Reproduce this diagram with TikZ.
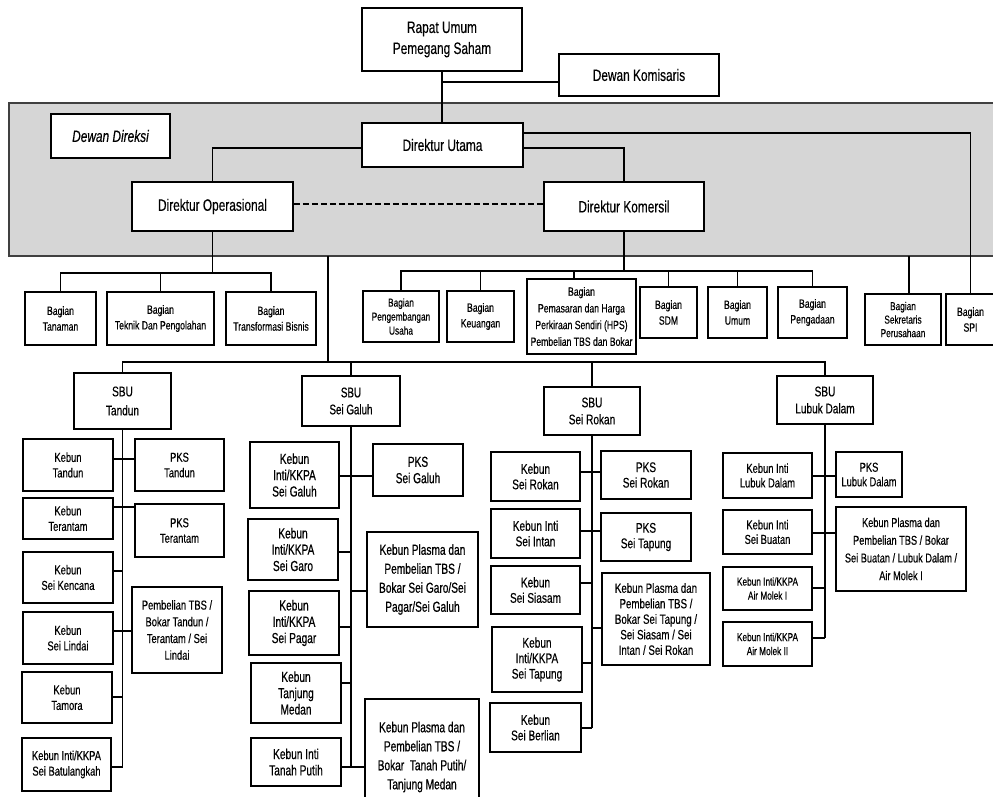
\documentclass[tikz,border=0pt]{standalone}
\usepackage{fontspec}
\setmainfont{Liberation Sans}[FakeStretch=0.72,FakeBold=0.3]
\newfontfamily\galfont{Liberation Sans}[FakeStretch=0.70,FakeBold=0.6]
\newcommand{\obox}[7][]{%
  \pgfmathsetmacro{\obcx}{(#3+#5)/2}%
  \pgfmathsetmacro{\obcy}{(#4+#6)/2}%
  \pgfmathsetmacro{\obw}{#5-#3}%
  \pgfmathsetmacro{\obh}{#6-#4}%
  \node[box,minimum width=\obw pt,minimum height=\obh pt,#1] (#2) at (\obcx,\obcy) {#7};}
\begin{document}
\begin{tikzpicture}[x=1pt,y=-1pt,
  box/.style={draw=black, line width=1.8pt, fill=white, align=center, inner sep=0pt,
    font=\fontsize{13}{15.5}\selectfont},
  topbox/.style={font=\fontsize{16.5}{21}\selectfont},
  sbuf/.style={font=\fontsize{14}{17}\selectfont},
  deptf/.style={font=\fontsize{12}{15.7}\selectfont},
  smallf/.style={font=\fontsize{11.5}{14}\selectfont},
  galf/.style={font=\galfont\fontsize{14.5}{16.3}\selectfont},
  galplas/.style={font=\galfont\fontsize{14.5}{19}\selectfont},
  rokf/.style={font=\fontsize{14}{15.5}\selectfont},
  lubf/.style={font=\fontsize{13}{14.5}\selectfont},
  lubplas/.style={font=\fontsize{12.8}{17.7}\selectfont},
  panel/.style={draw=black!75, line width=1.6pt, fill=black!16},
  lk/.style={draw=black, line width=1.6pt, line join=miter}]
\clip (0,0) rectangle (993,796);
\fill[white] (0,0) rectangle (993,796);

% ---------------- top ----------------
\obox[topbox]{rups}{362}{8}{522}{71}{Rapat Umum\\Pemegang Saham}
\obox[topbox]{dk}{559}{54}{719}{96}{Dewan Komisaris}
\draw[panel] (9,103) rectangle (1010,256);
\coordinate (kj) at (443,82);
\coordinate (sekTap) at (909,256);
\coordinate (sbuTap) at (328,256);
\obox[topbox,line width=1.6pt]{ddir}{51}{114}{170}{158}{\itshape Dewan Direksi}
\obox[topbox]{du}{362}{123}{523}{167}{Direktur Utama}
\obox[topbox]{dop}{132}{182}{293}{231}{Direktur Operasional}
\obox[topbox]{dkom}{544}{182}{704}{231}{Direktur Komersil}

% ---------------- departments ----------------
\obox[deptf]{tan}{25}{292}{96}{345}{Bagian\\Tanaman}
\obox[deptf]{tek}{107}{292}{214}{345}{Bagian\\Teknik Dan Pengolahan}
\obox[deptf]{trf}{226}{292}{316}{345}{Bagian\\Transformasi Bisnis}
\obox[smallf]{pgu}{363}{291}{439}{342}{Bagian\\Pengembangan\\Usaha}
\obox[deptf]{keu}{447}{291}{514}{342}{Bagian\\Keuangan}
\obox[font=\fontsize{12}{16.7}\selectfont]{pms}{527}{279}{636}{354}{Bagian\\Pemasaran dan Harga\\Perkiraan Sendiri (HPS)\\Pembelian TBS dan Bokar}
\obox[deptf]{sdm}{640}{287}{697}{338}{Bagian\\SDM}
\obox[deptf]{umm}{708}{287}{767}{338}{Bagian\\Umum}
\obox[deptf]{pgd}{778}{287}{847}{338}{Bagian\\Pengadaan}
\obox[font=\fontsize{11.5}{13.5}\selectfont]{sek}{865}{294}{941}{345}{Bagian\\Sekretaris\\Perusahaan}
\obox[deptf]{spi}{946}{294}{995}{345}{Bagian\\SPI}

% ---------------- SBU Tandun ----------------
\obox[sbuf,font=\fontsize{14}{19}\selectfont]{sbua}{74}{373}{171}{429}{SBU\\Tandun}
\obox{ta1}{23}{439}{113}{491}{Kebun\\Tandun}
\obox{ta2}{23}{498}{113}{539}{Kebun\\Terantam}
\obox{ta3}{23}{552}{113}{603}{Kebun\\Sei Kencana}
\obox{ta4}{23}{612}{113}{664}{Kebun\\Sei Lindai}
\obox{ta5}{22}{672}{112}{723}{Kebun\\Tamora}
\obox{ta6}{22}{738}{111}{791}{Kebun Inti/KKPA\\Sei Batulangkah}
\obox{tp1}{135}{439}{224}{491}{PKS\\Tandun}
\obox{tp2}{135}{504}{224}{557}{PKS\\Terantam}
\obox[font=\fontsize{13}{16.7}\selectfont]{tp3}{132}{587}{222}{673}{Pembelian TBS /\\Bokar Tandun /\\Terantam / Sei\\Lindai}

% ---------------- SBU Sei Galuh ----------------
\obox[sbuf,font=\galfont\fontsize{14}{17}\selectfont]{sbub}{302}{376}{400}{426}{SBU\\Sei Galuh}
\obox[galf]{ga1}{250}{442}{339}{508}{Kebun\\Inti/KKPA\\Sei Galuh}
\obox[galf]{ga2}{248}{519}{338}{580}{Kebun\\Inti/KKPA\\Sei Garo}
\obox[galf]{ga3}{249}{591}{339}{655}{Kebun\\Inti/KKPA\\Sei Pagar}
\obox[galf]{ga4}{251}{663}{341}{723}{Kebun\\Tanjung\\Medan}
\obox[galf]{ga5}{251}{738}{341}{786}{Kebun Inti\\Tanah Putih}
\obox[galf]{gp1}{373}{444}{463}{496}{PKS\\Sei Galuh}
\obox[galplas]{gp2}{367}{532}{478}{627}{Kebun Plasma dan\\Pembelian TBS /\\Bokar Sei Garo/Sei\\Pagar/Sei Galuh}
\obox[galplas]{gp3}{365}{699}{479}{815}{Kebun Plasma dan\\Pembelian TBS /\\Bokar~~Tanah Putih/\\Tanjung Medan}

% ---------------- SBU Sei Rokan ----------------
\obox[sbuf]{sbuc}{544}{387}{640}{435}{SBU\\Sei Rokan}
\obox[rokf]{ro1}{491}{452}{580}{501}{Kebun\\Sei Rokan}
\obox[rokf]{ro2}{491}{509}{580}{558}{Kebun Inti\\Sei Intan}
\obox[rokf]{ro3}{491}{566}{580}{614}{Kebun\\Sei Siasam}
\obox[rokf]{ro4}{492}{627}{582}{692}{Kebun\\Inti/KKPA\\Sei Tapung}
\obox[rokf]{ro5}{490}{703}{581}{752}{Kebun\\Sei Berlian}
\obox[rokf]{rp1}{601}{451}{691}{499}{PKS\\Sei Rokan}
\obox[rokf]{rp2}{601}{513}{691}{561}{PKS\\Sei Tapung}
\obox[font=\fontsize{13.5}{15.5}\selectfont]{rp3}{602}{573}{710}{665}{Kebun Plasma dan\\Pembelian TBS /\\Bokar Sei Tapung /\\Sei Siasam / Sei\\Intan / Sei Rokan}

% ---------------- SBU Lubuk Dalam ----------------
\obox[sbuf]{sbud}{777}{376}{873}{424}{SBU\\Lubuk Dalam}
\obox[lubf]{lu1}{723}{453}{812}{498}{Kebun Inti\\Lubuk Dalam}
\obox[lubf]{lu2}{723}{510}{812}{554}{Kebun Inti\\Sei Buatan}
\obox[smallf]{lu3}{723}{567}{812}{610}{Kebun Inti/KKPA\\Air Molek I}
\obox[smallf]{lu4}{723}{622}{812}{666}{Kebun Inti/KKPA\\Air Molek II}
\obox[lubf]{lp1}{836}{452}{902}{497}{PKS\\Lubuk Dalam}
\obox[lubplas]{lp2}{836}{507}{966}{591}{Kebun Plasma dan\\Pembelian TBS / Bokar\\Sei Buatan / Lubuk Dalam /\\Air Molek I}

% ---------------- connectors: top ----------------
\draw[lk] (rups.south) -- (rups.south |- du.north);
\draw[lk] (kj) -- (kj -| dk.west);
\draw[lk] (du.west |- 0,148) -| (dop.north);
\draw[lk] (du.east |- 0,148) -| (dkom.north);
\draw[lk] (du.east |- 0,133) -| (spi.north);
\draw[lk, dash pattern=on 6pt off 3pt] (dop.east |- 0,204) -- (dkom.west |- 0,204);

% operational departments
\draw[lk] (dop.south) -- (dop.south |- 0,273);
\draw[lk] (tan.north) |- (trf.north |- 0,273) -- (trf.north);
\draw[lk] (tek.north) -- (tek.north |- 0,273);
% commercial departments
\draw[lk] (dkom.south) -- (dkom.south |- 0,271);
\draw[lk] (pgu.north) |- (pgd.north |- 0,271) -- (pgd.north);
\draw[lk] (keu.north) -- (keu.north |- 0,271);
\draw[lk] (pms.north -| 574,0) -- (574,271);
\draw[lk] (sdm.north) -- (sdm.north |- 0,271);
\draw[lk] (umm.north) -- (umm.north |- 0,271);
% secretary
\draw[lk] (sekTap) -- (sekTap |- sek.north);

% SBU bar
\draw[lk] (sbuTap) -- (sbuTap |- 0,362);
\draw[lk] (sbua.north) |- (sbud.north |- 0,362) -- (sbud.north);
\draw[lk] (sbub.north) -- (sbub.north |- 0,362);
\draw[lk] (sbuc.north) -- (sbuc.north |- 0,362);

% Tandun
\draw[lk] (sbua.south) -- (sbua.south |- 0,767);
\draw[lk] (ta1.east |- 0,459) -- (tp1.west |- 0,459);
\draw[lk] (ta2.east |- 0,507) -- (tp2.west |- 0,507);
\draw[lk] (ta3.east |- 0,571) -- (sbua.south |- 0,571);
\draw[lk] (ta4.east |- 0,631) -- (tp3.west |- 0,631);
\draw[lk] (ta5.east |- 0,697) -- (sbua.south |- 0,697);
\draw[lk] (ta6.east |- 0,767) -- (sbua.south |- 0,767);

% Sei Galuh
\draw[lk] (sbub.south) -- (sbub.south |- 0,767);
\draw[lk] (ga1.east |- 0,476) -- (gp1.west |- 0,476);
\draw[lk] (ga2.east |- 0,552) -- (sbub.south |- 0,552);
\draw[lk] (sbub.south |- 0,591) -- (gp2.west |- 0,591);
\draw[lk] (ga3.east |- 0,627) -- (sbub.south |- 0,627);
\draw[lk] (ga4.east |- 0,683) -- (sbub.south |- 0,683);
\draw[lk] (ga5.east |- 0,767) -- (gp3.west |- 0,767);

% Sei Rokan
\draw[lk] (sbuc.south) -- (sbuc.south |- 0,728);
\draw[lk] (ro1.east |- 0,472) -- (rp1.west |- 0,472);
\draw[lk] (ro2.east |- 0,531) -- (rp2.west |- 0,531);
\draw[lk] (ro3.east |- 0,583) -- (sbuc.south |- 0,583);
\draw[lk] (sbuc.south |- 0,628) -- (rp3.west |- 0,628);
\draw[lk] (ro4.east |- 0,663) -- (sbuc.south |- 0,663);
\draw[lk] (ro5.east |- 0,728) -- (sbuc.south |- 0,728);

% Lubuk Dalam
\draw[lk] (sbud.south) -- (sbud.south |- 0,638);
\draw[lk] (lu1.east |- 0,476) -- (lp1.west |- 0,476);
\draw[lk] (lu2.east |- 0,533) -- (lp2.west |- 0,533);
\draw[lk] (lu3.east |- 0,588) -- (sbud.south |- 0,588);
\draw[lk] (lu4.east |- 0,638) -- (sbud.south |- 0,638);
\end{tikzpicture}
\end{document}
